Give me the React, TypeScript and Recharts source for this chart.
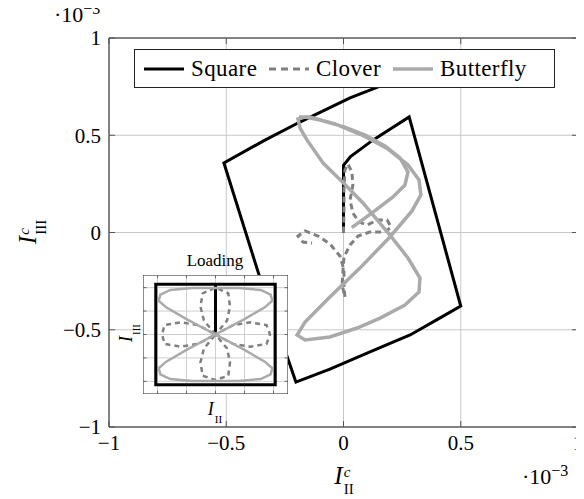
import { LineChart, Line, XAxis, YAxis, CartesianGrid, ReferenceArea, ReferenceLine, Legend } from 'recharts';

const FONT = '"Liberation Serif", "DejaVu Serif", serif';

const AXIS_TICKS = [-1, -0.5, 0, 0.5, 1];
const INSET_TICKS = [-1, -0.5, 0, 0.5, 1];

// main plot, values in units of 1e-3
const squareX = [0, 0, 0.03, 0.125, 0.28, 0.5, 0.412, 0.284, 0.113, -0.058, -0.203, -0.36, -0.51, -0.343, -0.186, 0.028, 0.156, 0.24];
const squareY = [0, 0.345, 0.39, 0.475, 0.594, -0.378, -0.439, -0.527, -0.614, -0.702, -0.769, -0.219, 0.357, 0.47, 0.568, 0.692, 0.753, 0.79];

const cloverX = [0, 0.002, 0.002, 0.006, 0.019, 0.036, 0.04, 0.028, 0.04, 0.066, 0.1, 0.147, 0.186, 0.203, 0.177, 0.113, 0.062, 0.028, 0.002, -0.002, -0.006, 0.006, 0.002, 0.002, -0.015, -0.058, -0.109, -0.164, -0.194, -0.173, -0.134];
const cloverY = [0, 0.116, 0.219, 0.321, 0.352, 0.311, 0.244, 0.167, 0.1, 0.054, 0.039, 0.064, 0.064, 0.028, 0.003, 0.003, -0.018, -0.064, -0.126, -0.193, -0.27, -0.332, -0.27, -0.193, -0.121, -0.059, -0.018, 0.008, -0.018, -0.049, -0.054];

const butterflyX = [0.035, 0.126, 0.211, 0.262, 0.275, 0.241, 0.177, 0.092, 0.006, -0.1, -0.164, -0.194, -0.185, -0.156, -0.087, 0, 0.083, 0.198, 0.275, 0.326, 0.322, 0.262, 0.156, 0.058, -0.058, -0.164, -0.198, -0.164, -0.058, 0.07, 0.198, 0.292, 0.33, 0.322, 0.275, 0.19, 0.079, -0.036, -0.143, -0.19];
const butterflyY = [0.025, 0.105, 0.183, 0.244, 0.311, 0.383, 0.445, 0.501, 0.542, 0.578, 0.594, 0.584, 0.537, 0.476, 0.357, 0.254, 0.152, -0.013, -0.131, -0.234, -0.306, -0.373, -0.44, -0.491, -0.537, -0.553, -0.527, -0.46, -0.332, -0.183, -0.023, 0.111, 0.193, 0.27, 0.347, 0.429, 0.501, 0.558, 0.594, 0.594];

// inset: loading paths
const loadSquareX = [0, 0, 1.03, 1.03, -1.03, -1.03, 0];
const loadSquareY = [0, 1.07, 1.07, -1.07, -1.07, 1.07, 1.07];

const loadCloverX = [0, -0.2, -0.26, -0.22, 0, 0.22, 0.25, 0.2, 0, 0.3, 0.6, 0.88, 0.94, 0.88, 0.6, 0.3, 0, 0.2, 0.25, 0.22, 0, -0.22, -0.26, -0.2, 0, -0.3, -0.6, -0.88, -0.92, -0.88, -0.6, -0.3, 0];
const loadCloverY = [0, 0.3, 0.6, 0.88, 1.0, 0.88, 0.6, 0.3, 0, 0.2, 0.26, 0.2, 0, -0.2, -0.26, -0.2, 0, -0.3, -0.6, -0.88, -0.97, -0.88, -0.6, -0.3, 0, -0.2, -0.26, -0.2, 0, 0.2, 0.26, 0.2, 0];

const loadButterflyX = [0, 0.5, 0.85, 0.98, 0.95, 0.78, 0.4, 0, -0.4, -0.78, -0.95, -0.98, -0.85, -0.5, 0, 0.5, 0.85, 0.98, 0.95, 0.78, 0.4, 0, -0.4, -0.78, -0.95, -0.98, -0.85, -0.5, 0];
const loadButterflyY = [0, 0.33, 0.58, 0.72, 0.85, 0.95, 0.99, 0.99, 0.99, 0.95, 0.85, 0.72, 0.58, 0.33, 0, -0.33, -0.58, -0.72, -0.85, -0.95, -0.99, -0.99, -0.99, -0.95, -0.85, -0.72, -0.58, -0.33, 0];

const toPoints = (xs: number[], ys: number[]) => xs.map((x, i) => ({ x, y: ys[i] }));

const squareData = toPoints(squareX, squareY);
const cloverData = toPoints(cloverX, cloverY);
const butterflyData = toPoints(butterflyX, butterflyY);
const loadSquare = toPoints(loadSquareX, loadSquareY);
const loadClover = toPoints(loadCloverX, loadCloverY);
const loadButterfly = toPoints(loadButterflyX, loadButterflyY);

const LEGEND_ITEMS = [
  { name: 'Square', color: '#000000', width: 3, dash: undefined as string | undefined, span: 125 },
  { name: 'Clover', color: '#808080', width: 3, dash: '7 5', span: 124 },
  { name: 'Butterfly', color: '#aaaaaa', width: 3.5, dash: undefined as string | undefined, span: 160 },
];

const fmt = (v: number) => (v < 0 ? `\u2212${Math.abs(v)}` : `${v}`);

// small inward tick marks on all four sides of a frame (pgfplots style)
function frameTicks(ticks: number[], xr: [number, number], yr: [number, number], lx: number, ly: number, stroke: string) {
  const out: JSX.Element[] = [];
  ticks.forEach((t) => {
    out.push(<ReferenceLine key={`b${t}`} segment={[{ x: t, y: yr[0] }, { x: t, y: yr[0] + ly }]} stroke={stroke} />);
    out.push(<ReferenceLine key={`t${t}`} segment={[{ x: t, y: yr[1] }, { x: t, y: yr[1] - ly }]} stroke={stroke} />);
    out.push(<ReferenceLine key={`l${t}`} segment={[{ x: xr[0], y: t }, { x: xr[0] + lx, y: t }]} stroke={stroke} />);
    out.push(<ReferenceLine key={`r${t}`} segment={[{ x: xr[1], y: t }, { x: xr[1] - lx, y: t }]} stroke={stroke} />);
  });
  return out;
}

function renderLegend() {
  return (
    <div
      style={{
        display: 'flex', alignItems: 'center', width: 421, height: 39, boxSizing: 'border-box',
        border: '1px solid #222', background: '#fff', paddingLeft: 9, fontSize: 23, fontFamily: FONT,
      }}
    >
      {LEGEND_ITEMS.map((it) => (
        <span key={it.name} style={{ display: 'flex', alignItems: 'center', width: it.span, flex: 'none' }}>
          <svg width={40} height={10} style={{ flex: 'none' }}>
            <line x1={0} y1={5} x2={40} y2={5} stroke={it.color} strokeWidth={it.width} strokeDasharray={it.dash} />
          </svg>
          <span style={{ marginLeft: 7, letterSpacing: 0.4 }}>{it.name}</span>
        </span>
      ))}
    </div>
  );
}

// italic I with a stacked superscript / subscript
function IndexLabel({ sub, sup, size }: { sub: string; sup?: string; size: number }) {
  const small = Math.round(size * 0.6);
  return (
    <span style={{ display: 'inline-flex', alignItems: 'center', fontSize: size, fontFamily: FONT, whiteSpace: 'nowrap' }}>
      <span style={{ fontStyle: 'italic' }}>I</span>
      <span style={{ display: 'inline-flex', flexDirection: 'column', fontSize: small, lineHeight: 'normal', marginLeft: 1, marginTop: size * 0.45 }}>
        {sup ? <span style={{ fontStyle: 'italic' }}>{sup}</span> : <span style={{ height: small }} />}
        <span>{sub}</span>
      </span>
    </span>
  );
}

const Exponent = () => (
  <span style={{ fontSize: 22, fontFamily: FONT, whiteSpace: 'nowrap' }}>
    ·10<sup style={{ fontSize: 16 }}>{'\u2212'}3</sup>
  </span>
);

const tickStyle = { fontSize: 21, fill: '#000', fontFamily: FONT };

export default function App() {
  return (
    <div style={{ position: 'relative', width: 576, height: 491, fontFamily: FONT }}>
      <LineChart width={576} height={491} margin={{ top: 30, right: 6, bottom: 42, left: 51 }}>
        <CartesianGrid stroke="#c8c8c8" />
        <XAxis
          type="number" dataKey="x" domain={[-1, 1]} ticks={AXIS_TICKS} allowDataOverflow
          tickFormatter={fmt} axisLine={false} tickLine={false} height={30} tick={tickStyle}
        />
        <YAxis
          type="number" dataKey="y" domain={[-1, 1]} ticks={AXIS_TICKS} allowDataOverflow
          tickFormatter={fmt} axisLine={false} tickLine={false} width={50} tick={tickStyle}
        />
        {frameTicks(AXIS_TICKS, [-1, 1], [-1, 1], 0.026, 0.031, '#555')}
        <Line data={squareData} dataKey="y" stroke="#000" strokeWidth={3} dot={false} isAnimationActive={false} legendType="none" />
        <Line data={cloverData} dataKey="y" stroke="#808080" strokeWidth={3} strokeDasharray="6 4" dot={false} isAnimationActive={false} legendType="none" />
        <Line data={butterflyData} dataKey="y" stroke="#aaaaaa" strokeWidth={3.5} dot={false} isAnimationActive={false} legendType="none" />
        <ReferenceArea x1={-1} x2={1} y1={-1} y2={1} fill="none" stroke="#222" strokeWidth={1} fillOpacity={0} />
        <Legend
          content={renderLegend} layout="horizontal" verticalAlign="middle" align="center"
          wrapperStyle={{ left: 126, top: 41, width: 421, height: 39 }}
        />
      </LineChart>

      <div style={{ position: 'absolute', left: 46, top: -8 }}><Exponent /></div>
      <div style={{ position: 'absolute', left: 514, top: 454 }}><Exponent /></div>

      <div style={{ position: 'absolute', left: 336, top: 468, transform: 'translate(-50%, -50%)' }}>
        <IndexLabel sub="II" sup="c" size={25} />
      </div>
      <div style={{ position: 'absolute', left: 20, top: 224, transform: 'translate(-50%, -50%) rotate(-90deg)' }}>
        <IndexLabel sub="III" sup="c" size={25} />
      </div>

      {/* inset: loading path */}
      <div style={{ position: 'absolute', left: 207, top: 253, transform: 'translate(-50%, -50%)', fontSize: 17, whiteSpace: 'nowrap' }}>
        Loading
      </div>
      <div style={{ position: 'absolute', left: 135, top: 267, width: 145, height: 119, background: '#fff' }}>
        <LineChart width={145} height={119} margin={{ top: 0, right: 0, bottom: 0, left: 0 }}>
          <CartesianGrid stroke="#cfcfcf" />
          <XAxis type="number" dataKey="x" domain={[-1.25, 1.25]} ticks={INSET_TICKS} allowDataOverflow hide />
          <YAxis type="number" dataKey="y" domain={[-1.27, 1.27]} ticks={INSET_TICKS} allowDataOverflow hide />
          {frameTicks(INSET_TICKS, [-1.25, 1.25], [-1.27, 1.27], 0.06, 0.07, '#666')}
          <Line data={loadSquare} dataKey="y" stroke="#000" strokeWidth={3} dot={false} isAnimationActive={false} />
          <Line data={loadClover} dataKey="y" stroke="#808080" strokeWidth={2.5} strokeDasharray="5 4" dot={false} isAnimationActive={false} />
          <Line data={loadButterfly} dataKey="y" stroke="#aaaaaa" strokeWidth={2.5} dot={false} isAnimationActive={false} />
          <ReferenceArea x1={-1.25} x2={1.25} y1={-1.27} y2={1.27} fill="none" fillOpacity={0} stroke="#333" strokeWidth={1} />
        </LineChart>
      </div>
      <div style={{ position: 'absolute', left: 207, top: 402, transform: 'translate(-50%, -50%)' }}>
        <IndexLabel sub="II" size={18} />
      </div>
      <div style={{ position: 'absolute', left: 119, top: 325, transform: 'translate(-50%, -50%) rotate(-90deg)' }}>
        <IndexLabel sub="III" size={18} />
      </div>
    </div>
  );
}
